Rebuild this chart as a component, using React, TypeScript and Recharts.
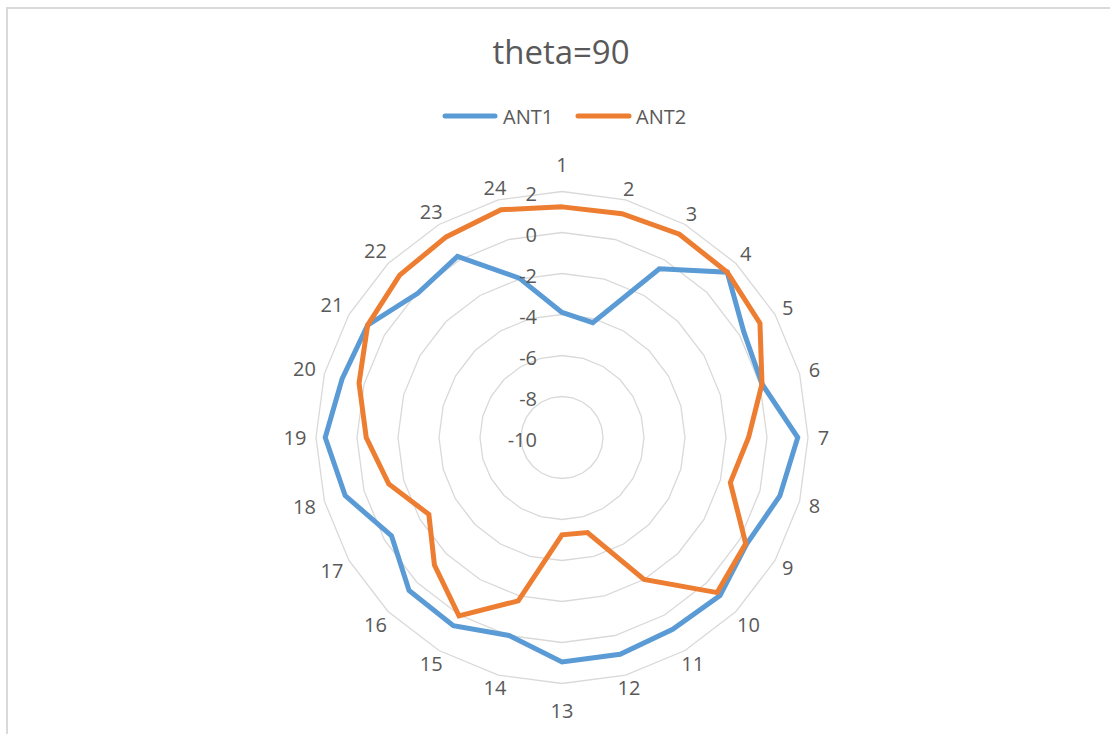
import { RadarChart, Radar, PolarGrid, PolarAngleAxis, PolarRadiusAxis } from "recharts";

const categories = [
  "1", "2", "3", "4", "5", "6", "7", "8", "9", "10", "11", "12",
  "13", "14", "15", "16", "17", "18", "19", "20", "21", "22", "23", "24",
];

const ant1 = [
  -3.9, -4.2, -0.5, 1.4, 0.25, 0.1, 1.5, 1.0, 0.4, 0.9, 0.8, 0.95,
  0.95, 0.0, 0.6, 0.55, -0.4, 0.95, 1.55, 1.1, 0.95, -0.05, 0.2, -1.95,
];

const ant2 = [
  1.25, 1.3, 1.45, 1.4, 1.15, 0.1, -0.9, -1.5, 0.35, 0.7, -2.0, -5.2,
  -5.25, -1.75, 0.05, -1.2, -2.5, -1.25, -0.45, 0.25, 0.95, 1.2, 1.3, 1.5,
];

const radiusTicks = [-10, -8, -6, -4, -2, 0, 2];

const W = 1110;
const H = 734;
const CX = 562;
const CY = 437.5;
const R = 246;
const TEXT = "#595959";
const BLUE = "#5B9BD5";
const ORANGE = "#ED7D31";

const data = categories.map((c, i) => ({ axis: c, ANT1: ant1[i], ANT2: ant2[i] }));

// category labels sit just outside the outer ring, like excel does it
function AngleTick(props: any) {
  const label = String(props.payload.value);
  const i = categories.indexOf(label);
  const th = (i * 15 * Math.PI) / 180;
  const s = Math.sin(th);
  const c = Math.cos(th);
  const w = label.length * 11;
  const r = Math.abs(s) < 0.01 ? R + 27 : R + 10 + (Math.abs(s) * w) / 2;
  return (
    <text
      x={CX + r * s}
      y={CY - r * c}
      textAnchor="middle"
      dominantBaseline="central"
      fill={TEXT}
      fontSize={20}
    >
      {label}
    </text>
  );
}

function RadiusTick(props: any) {
  const { x, y, payload } = props;
  return (
    <text x={x - 25} y={y + 2} textAnchor="end" dominantBaseline="central" fill={TEXT} fontSize={20}>
      {payload.value}
    </text>
  );
}

export default function App() {
  return (
    <div
      style={{
        position: "absolute",
        left: 0,
        top: 0,
        width: W,
        height: H,
        overflow: "hidden",
        background: "#fff",
        fontFamily: "'Open Sans', sans-serif",
      }}
    >
      <div
        style={{
          position: "absolute",
          left: 6,
          top: 7,
          width: 1300,
          height: 900,
          borderTop: "2px solid #d9d9d9",
          borderLeft: "2px solid #d9d9d9",
        }}
      />
      <div style={{ position: "absolute", left: 0, top: 0 }}>
        <RadarChart
          width={W}
          height={H}
          data={data}
          cx={CX}
          cy={CY}
          outerRadius={R}
          margin={{ top: 0, right: 0, bottom: 0, left: 0 }}
        >
          <PolarGrid gridType="polygon" radialLines={false} stroke="#d9d9d9" strokeWidth={1.3} />
          <PolarAngleAxis dataKey="axis" tick={<AngleTick />} axisLine={false} tickLine={false} />
          <PolarRadiusAxis
            type="number"
            angle={90}
            domain={[-10, 2]}
            ticks={radiusTicks}
            tickCount={7}
            axisLine={false}
            tickLine={false}
            tick={<RadiusTick />}
          />
          <Radar
            name="ANT1"
            dataKey="ANT1"
            stroke={BLUE}
            strokeWidth={5}
            fill="none"
            fillOpacity={0}
            dot={false}
            isAnimationActive={false}
          />
          <Radar
            name="ANT2"
            dataKey="ANT2"
            stroke={ORANGE}
            strokeWidth={5}
            fill="none"
            fillOpacity={0}
            dot={false}
            isAnimationActive={false}
          />
        </RadarChart>
      </div>
      <svg width={W} height={140} style={{ position: "absolute", left: 0, top: 0 }}>
        <text x={561} y={64} textAnchor="middle" fill={TEXT} fontSize={33}>
          theta=90
        </text>
        <line x1={445} y1={116} x2={495} y2={116} stroke={BLUE} strokeWidth={5} strokeLinecap="round" />
        <text x={503} y={123.5} fill={TEXT} fontSize={20}>
          ANT1
        </text>
        <line x1={578} y1={116} x2={629} y2={116} stroke={ORANGE} strokeWidth={5} strokeLinecap="round" />
        <text x={636} y={123.5} fill={TEXT} fontSize={20}>
          ANT2
        </text>
      </svg>
    </div>
  );
}
